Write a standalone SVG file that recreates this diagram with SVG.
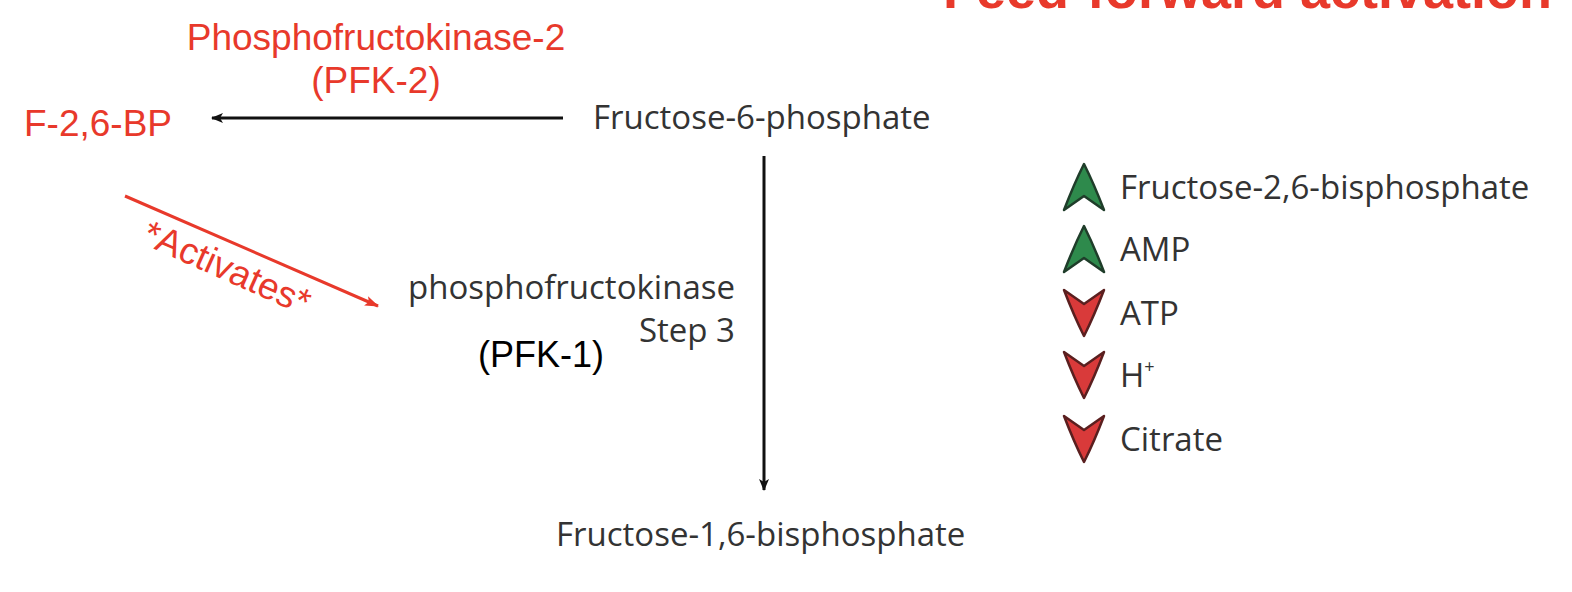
<svg xmlns="http://www.w3.org/2000/svg" width="1572" height="592" viewBox="0 0 1572 592">
<style>
.g{font-family:"Open Sans","Noto Sans",sans-serif;font-size:33px;fill:#333}
.r{font-family:"Liberation Sans",Arial,sans-serif;font-size:37px;fill:#e8392b}
.k{font-family:"Liberation Sans",Arial,sans-serif;font-size:36px;fill:#000}
.up{fill:#2e8a4c;stroke:#1f3d2a;stroke-width:2.5;stroke-linejoin:round}
.dn{fill:#d93a3a;stroke:#5a1f1f;stroke-width:2.5;stroke-linejoin:round}
</style>
<defs>
<marker id="ab" markerWidth="12" markerHeight="10" refX="11" refY="5" orient="auto" markerUnits="userSpaceOnUse"><path d="M0,0 L12,5 L0,10 L3,5 Z" fill="#111"/></marker>
<marker id="ar" markerWidth="14" markerHeight="10" refX="13" refY="5" orient="auto" markerUnits="userSpaceOnUse"><path d="M0,0 L14,5 L0,10 L3,5 Z" fill="#e8392b"/></marker>
<path id="chev" d="M0,-24 Q10,-4 20,22 L0,8 L-20,22 Q-10,-4 0,-24 Z"/>
</defs>
<rect width="1572" height="592" fill="#fff"/>
<text x="1552" y="8" font-family="Liberation Sans,Arial,sans-serif" font-weight="bold" font-size="54" fill="#e8392b" text-anchor="end">Feed-forward activation</text>
<g id="connectors">
<line x1="563" y1="118" x2="212" y2="118" stroke="#111" stroke-width="3" marker-end="url(#ab)"/>
<line x1="764" y1="156" x2="764" y2="490" stroke="#111" stroke-width="3" marker-end="url(#ab)"/>
<line x1="125" y1="196" x2="378" y2="306" stroke="#e8392b" stroke-width="3" marker-end="url(#ar)"/>
</g>
<g id="pfk2"><text class="r" x="376" y="50" text-anchor="middle">Phosphofructokinase-2</text><text class="r" x="376" y="93" text-anchor="middle">(PFK-2)</text></g>
<g id="f26bp"><text class="r" x="24" y="136">F-2,6-BP</text></g>
<g id="f6p"><text class="g" x="593" y="129">Fructose-6-phosphate</text></g>
<g id="activates"><text class="r" x="226" y="280" text-anchor="middle" font-size="33" transform="rotate(24 226 270)">*Activates*</text></g>
<g id="pfk1"><text class="g" x="735" y="299" text-anchor="end">phosphofructokinase</text><text class="g" x="735" y="342" text-anchor="end">Step 3</text><text class="k" x="478" y="367">(PFK-1)</text></g>
<g id="f16bp"><text class="g" x="556" y="546">Fructose-1,6-bisphosphate</text></g>
<g id="legend">
<use href="#chev" class="up" transform="translate(1084,188)"/>
<use href="#chev" class="up" transform="translate(1084,250)"/>
<use href="#chev" class="dn" transform="translate(1084,312) scale(1,-1)"/>
<use href="#chev" class="dn" transform="translate(1084,374) scale(1,-1)"/>
<use href="#chev" class="dn" transform="translate(1084,438) scale(1,-1)"/>
<text class="g" x="1120" y="199">Fructose-2,6-bisphosphate</text>
<text class="g" x="1120" y="261">AMP</text>
<text class="g" x="1120" y="325">ATP</text>
<text class="g" x="1120" y="387">H<tspan font-size="18" dy="-14">+</tspan></text>
<text class="g" x="1120" y="451">Citrate</text>
</g>
</svg>
